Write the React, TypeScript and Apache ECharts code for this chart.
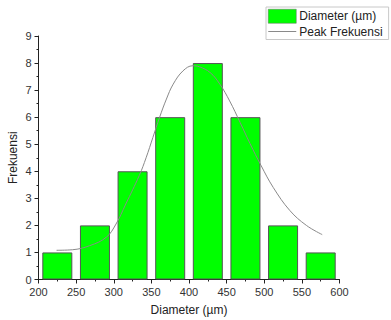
import React, { useEffect, useRef } from "react";
import * as echarts from "echarts";

const binCenters = [225, 275, 325, 375, 425, 475, 525, 575];
const counts = [1, 2, 4, 6, 8, 6, 2, 1];
const curveX = [224, 245, 268, 290, 303, 316, 334, 343, 352, 361, 370, 379, 392, 405, 414, 428, 441, 454, 468, 481, 496, 512, 534, 556, 577];
const curveY = [1.08, 1.1, 1.25, 1.56, 2.05, 2.79, 3.85, 4.5, 5.25, 6.0, 6.67, 7.22, 7.71, 7.9, 7.86, 7.65, 7.22, 6.6, 5.8, 5.03, 4.2, 3.4, 2.55, 2.0, 1.66];

export default function App() {
  const ref = useRef<HTMLDivElement>(null);
  useEffect(() => {
    const chart = echarts.init(ref.current!, null, { renderer: "svg" });
    const font = "Liberation Sans, Arial, sans-serif";
    chart.setOption({
      animation: false,
      textStyle: { fontFamily: font },
      grid: { left: 38.5, right: 51.5, top: 36, bottom: 40.5, outerBoundsMode: "none", containLabel: false },
      legend: {
        orient: "vertical",
        left: 266,
        top: 7,
        padding: [2, 6, 2, 2],
        itemGap: 2,
        itemWidth: 28,
        itemHeight: 14,
        symbolKeepAspect: true,
        borderColor: "#c8c8c8",
        borderWidth: 1,
        textStyle: { fontSize: 12, color: "#222", fontFamily: font, padding: [0, 0, 0, -2] },
        data: [
          { name: "Diameter (µm)", icon: "rect", itemStyle: { borderColor: "#666", borderWidth: 0.5 } },
          {
            name: "Peak Frekuensi",
            icon: "path://M0,0 L28,0 L28,1 L0,1 Z",
            itemStyle: { color: "#8a8a8a", borderWidth: 0, opacity: 1 },
          },
        ],
      },
      xAxis: {
        type: "value",
        min: 200,
        max: 600,
        interval: 50,
        name: "Diameter (µm)",
        nameLocation: "middle",
        nameGap: 24,
        nameMoveOverlap: false,
        nameTextStyle: { fontSize: 12, color: "#222", fontFamily: font },
        axisLine: { show: true, lineStyle: { color: "#222", width: 1 } },
        axisTick: { show: true, length: 4, lineStyle: { color: "#222" } },
        minorTick: { show: true, splitNumber: 2, length: 2, lineStyle: { color: "#222" } },
        axisLabel: { fontSize: 11, color: "#333", margin: 7, fontFamily: font },
        splitLine: { show: false },
      },
      yAxis: {
        type: "value",
        min: 0,
        max: 9,
        interval: 1,
        name: "Frekuensi",
        nameLocation: "middle",
        nameGap: 20,
        nameMoveOverlap: false,
        nameTextStyle: { fontSize: 12, color: "#222", fontFamily: font },
        axisLine: { show: true, lineStyle: { color: "#222", width: 1 } },
        axisTick: { show: true, length: 4, lineStyle: { color: "#222" } },
        minorTick: { show: true, splitNumber: 2, length: 2, lineStyle: { color: "#222" } },
        axisLabel: { fontSize: 11, color: "#333", margin: 7, fontFamily: font },
        splitLine: { show: false },
      },
      series: [
        {
          name: "Diameter (µm)",
          type: "bar",
          barWidth: 30,
          data: binCenters.map((x, i) => [x, counts[i]]),
          itemStyle: { color: "#00ff00", borderColor: "#555", borderWidth: 1 },
        },
        {
          name: "Peak Frekuensi",
          type: "line",
          smooth: 0.4,
          symbol: "none",
          data: curveX.map((x, i) => [x, curveY[i]]),
          lineStyle: { color: "#8a8a8a", width: 1 },
          itemStyle: { color: "#8a8a8a" },
          z: 3,
        },
      ],
    });
    return () => chart.dispose();
  }, []);
  return <div ref={ref} style={{ width: 391, height: 320, position: "absolute", left: 0, top: 0, background: "#fff" }} />;
}
